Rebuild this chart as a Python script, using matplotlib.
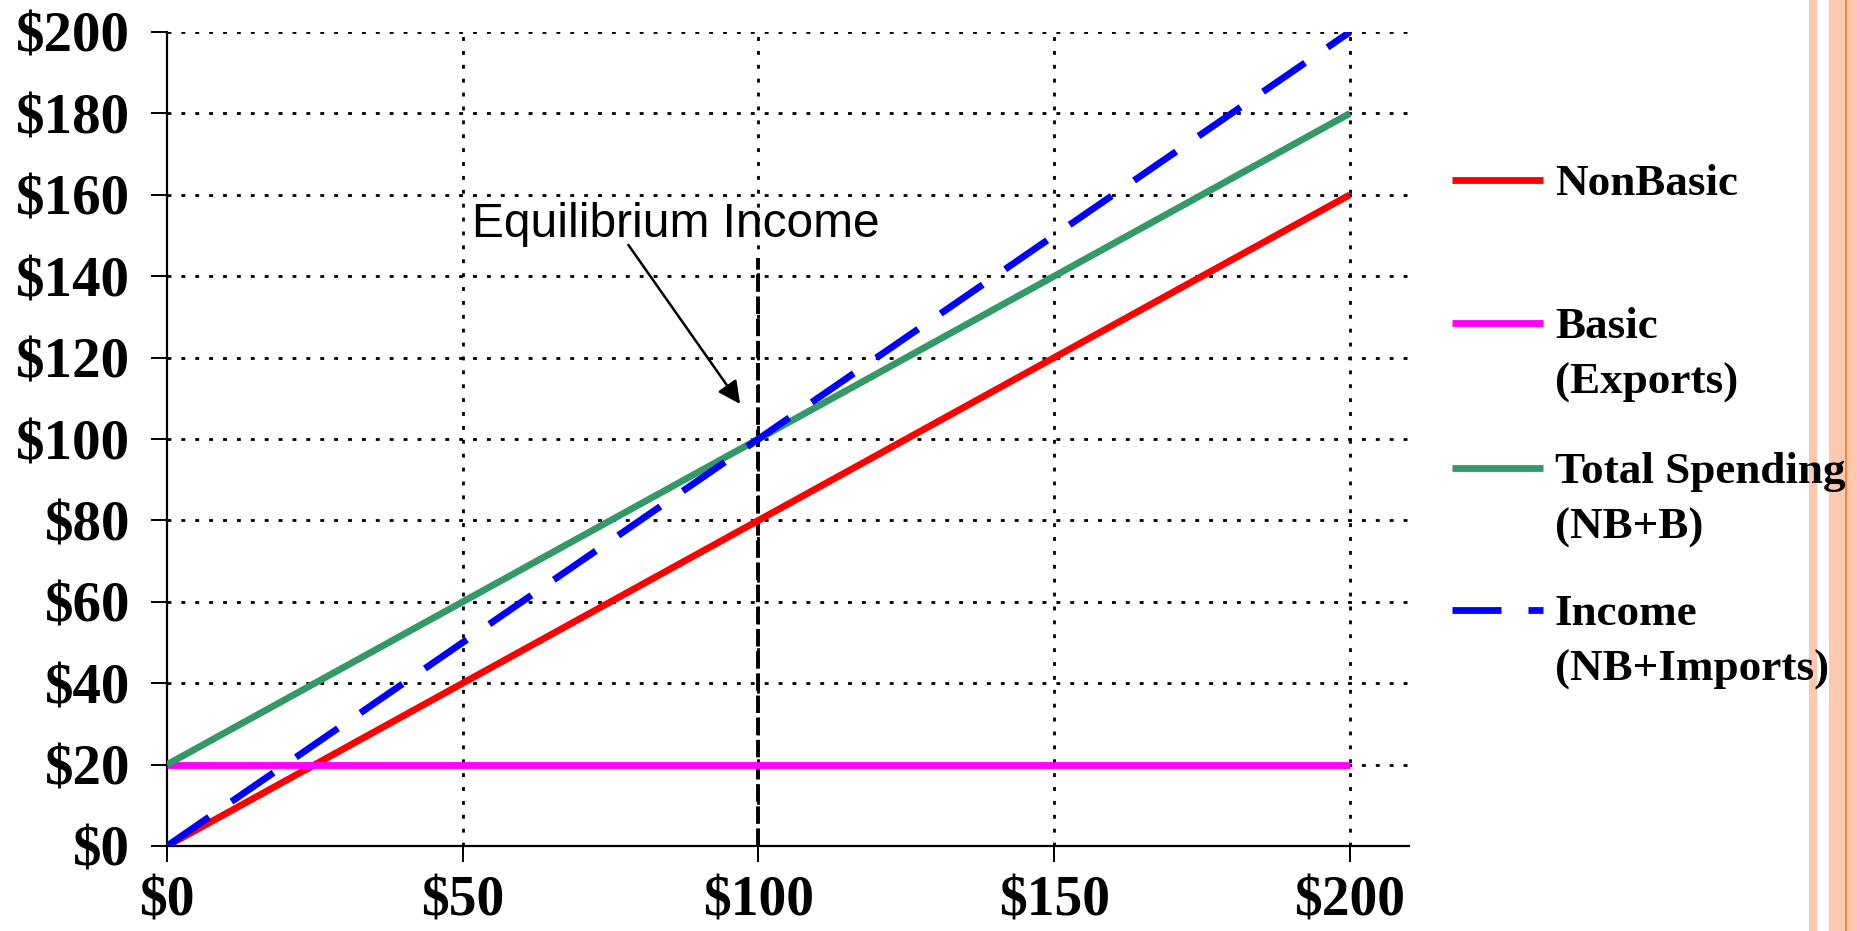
import matplotlib
matplotlib.use("Agg")
import matplotlib.pyplot as plt
from matplotlib.lines import Line2D
from matplotlib.patches import Rectangle

# Local economy: spending vs. income
income_level = [0, 10, 20, 30, 40, 50, 60, 70, 80, 90, 100,
                110, 120, 130, 140, 150, 160, 170, 180, 190, 200]
nonbasic = [0, 8, 16, 24, 32, 40, 48, 56, 64, 72, 80,
            88, 96, 104, 112, 120, 128, 136, 144, 152, 160]
basic = [20, 20, 20, 20, 20, 20, 20, 20, 20, 20, 20,
         20, 20, 20, 20, 20, 20, 20, 20, 20, 20]
total_spending = [20, 28, 36, 44, 52, 60, 68, 76, 84, 92, 100,
                  108, 116, 124, 132, 140, 148, 156, 164, 172, 180]
income = [0, 10, 20, 30, 40, 50, 60, 70, 80, 90, 100,
          110, 120, 130, 140, 150, 160, 170, 180, 190, 200]

x_ticks = [0, 50, 100, 150, 200]
x_tick_labels = ["$0", "$50", "$100", "$150", "$200"]
y_ticks = [0, 20, 40, 60, 80, 100, 120, 140, 160, 180, 200]
y_tick_labels = ["$0", "$20", "$40", "$60", "$80", "$100",
                 "$120", "$140", "$160", "$180", "$200"]

equilibrium_x = 100
equilibrium_top = 144.5

series_labels = [["NonBasic"], ["Basic", "(Exports)"],
                 ["Total Spending", "(NB+B)"], ["Income", "(NB+Imports)"]]

RED = "#FF0000"
MAGENTA = "#FF00FF"
GREEN = "#339966"
BLUE = "#0000FF"

W, H = 1857, 931
fig = plt.figure(figsize=(W / 100, H / 100), dpi=100)
fig.patch.set_facecolor("white")

# decorative stripes on the right edge
stripe = "#FCC8B0"
fig.add_artist(Rectangle((1809 / W, 0), 8 / W, 1, transform=fig.transFigure,
                         facecolor=stripe, edgecolor="none", zorder=0))
fig.add_artist(Rectangle((1829 / W, 0), 28 / W, 1, transform=fig.transFigure,
                         facecolor=stripe, edgecolor="none", zorder=0))
fig.add_artist(Line2D([1845.5 / W, 1845.5 / W], [0, 1], transform=fig.transFigure,
                      color="#F58634", lw=1.4, zorder=1))

left, right = 167 / W, 1409 / W
bottom, top = 1 - 846 / H, 1 - 32 / H
ax = fig.add_axes([left, bottom, right - left, top - bottom])
ax.set_xlim(0, 210)
ax.set_ylim(0, 200)

for s in ("top", "right"):
    ax.spines[s].set_visible(False)
for s in ("left", "bottom"):
    ax.spines[s].set_linewidth(1.6)
    ax.spines[s].set_color("black")
    ax.spines[s].set_zorder(1)

# dotted grid
grid_kw = dict(color="black", lw=2.0, ls=(0, (1.4, 3.6)), zorder=1)
for yv in y_ticks[1:]:
    ax.axhline(yv, **grid_kw)
for xv in x_ticks[1:]:
    ax.axvline(xv, **grid_kw)

ax.set_xticks(x_ticks)
ax.set_xticklabels(x_tick_labels)
ax.set_yticks(y_ticks)
ax.set_yticklabels(y_tick_labels)
for lab in ax.get_yticklabels():
    lab.set_fontfamily("Liberation Serif")
    lab.set_fontweight("bold")
    lab.set_fontsize(41)
for lab in ax.get_xticklabels():
    lab.set_fontfamily("Liberation Serif")
    lab.set_fontweight("bold")
    lab.set_fontsize(40)
ax.tick_params(axis="x", direction="out", length=11.5, width=1.4, pad=10)
ax.tick_params(axis="y", direction="out", length=11.5, width=1.4, pad=15)

# equilibrium marker
ax.plot([equilibrium_x, equilibrium_x], [0, equilibrium_top], color="black",
        lw=2.8, ls=(0, (4.5, 1.2)), zorder=2)

lw = 4.9
ax.plot(income_level, nonbasic, color=RED, lw=lw, zorder=3, solid_capstyle="butt")
ax.plot(income_level, basic, color=MAGENTA, lw=lw, zorder=3, solid_capstyle="butt")
ax.plot(income_level, total_spending, color=GREEN, lw=lw, zorder=3,
        solid_capstyle="butt")
ax.plot(income_level, income, color=BLUE, lw=lw, zorder=4, ls=(0, (7.5, 4.0)),
        dash_capstyle="butt")

ax.text(51.6, 149.6, "Equilibrium Income", family="Liberation Sans", fontsize=34.5,
        va="baseline", ha="left", zorder=5)
ax.annotate("", xy=(96.9, 108.6), xytext=(78.0, 147.7),
            arrowprops=dict(arrowstyle="-|>", color="black", lw=1.8,
                            mutation_scale=34, shrinkA=0, shrinkB=0),
            zorder=5)

# legend drawn in figure space
legend_rows = [(180, RED, "-"), (323, MAGENTA, "-"), (468, GREEN, "-"),
               (610, BLUE, "--")]
for (py, color, style), lines in zip(legend_rows, series_labels):
    yf = 1 - py / H
    if style == "-":
        segs = [(1452, 1543)]
    else:
        segs = [(1452, 1501), (1528, 1543)]
    for a, b in segs:
        fig.add_artist(Line2D([a / W, b / W], [yf, yf], transform=fig.transFigure,
                              color=color, lw=lw, solid_capstyle="butt", zorder=3))
    for i, line in enumerate(lines):
        base = py + 15 + i * 56
        fig.text(1555 / W, 1 - base / H, line, family="Liberation Serif",
                 weight="bold", fontsize=32.5, va="baseline", ha="left", zorder=5)

fig.savefig("out.png", dpi=100, facecolor="white")
